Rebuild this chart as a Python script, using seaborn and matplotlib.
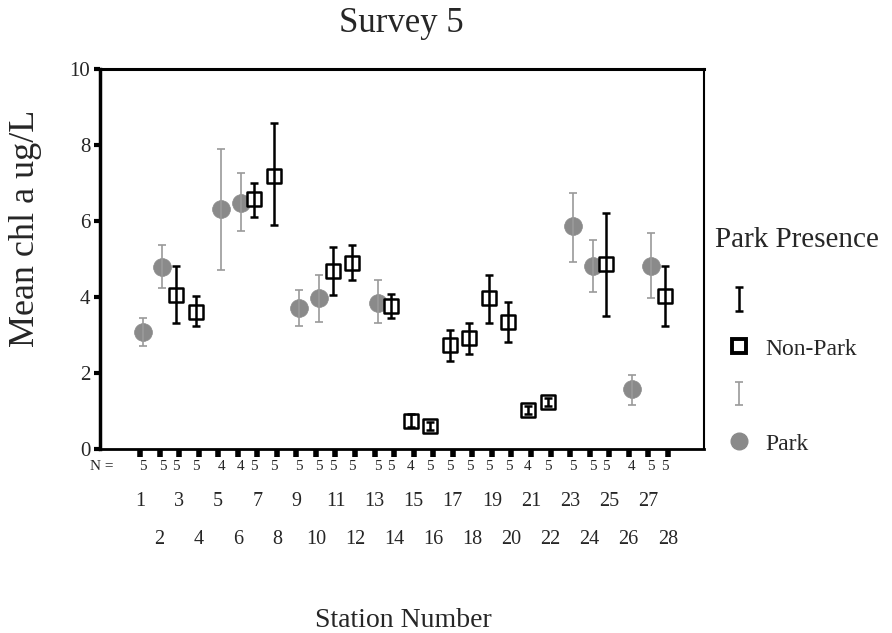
import numpy as np
import pandas as pd
import seaborn as sns
import matplotlib.pyplot as plt
from matplotlib.lines import Line2D
from matplotlib.transforms import blended_transform_factory

# dados (media e intervalo por estacao)
estacoes = list(range(1, 29))
grupo = ["Park", "Park", "Non-Park", "Non-Park", "Park", "Park", "Non-Park",
         "Non-Park", "Park", "Park", "Non-Park", "Non-Park", "Park", "Non-Park",
         "Non-Park", "Non-Park", "Non-Park", "Non-Park", "Non-Park", "Non-Park",
         "Non-Park", "Non-Park", "Park", "Park", "Non-Park", "Park", "Park",
         "Non-Park"]
media = [3.07, 4.79, 4.06, 3.60, 6.32, 6.47, 6.59, 7.20, 3.71, 3.97, 4.69,
         4.91, 3.84, 3.77, 0.75, 0.61, 2.73, 2.92, 3.97, 3.34, 1.03, 1.24,
         5.86, 4.81, 4.87, 1.58, 4.82, 4.02]
superior = [3.45, 5.38, 4.81, 4.03, 7.89, 7.26, 7.00, 8.58, 4.19, 4.59, 5.33,
            5.38, 4.46, 4.08, 0.93, 0.72, 3.14, 3.33, 4.59, 3.87, 1.13, 1.34,
            6.74, 5.49, 6.21, 1.94, 5.70, 4.81]
inferior = [2.72, 4.24, 3.33, 3.24, 4.70, 5.74, 6.10, 5.90, 3.23, 3.34, 4.06,
            4.44, 3.33, 3.45, 0.57, 0.50, 2.31, 2.51, 3.33, 2.81, 0.93, 1.14,
            4.92, 4.13, 3.49, 1.15, 3.97, 3.24]
n_obs = [5, 5, 5, 5, 4, 4, 5, 5, 5, 5, 5, 5, 5, 5, 4, 5, 5, 5, 5, 5, 4, 5, 5,
         5, 5, 4, 5, 5]

db = pd.DataFrame({"Estacao": estacoes, "Grupo": grupo, "Media": media,
                   "Sup": superior, "Inf": inferior, "N": n_obs})
# deslocamento do cluster (park a direita, non-park a esquerda)
db["X"] = db["Estacao"] + np.where(db["Grupo"] == "Park", 0.15, -0.15)

sns.set_style("ticks")
plt.rcParams["font.family"] = ["Liberation Serif", "DejaVu Serif"]

W, H = 892, 633
fig = plt.figure(figsize=(W / 100, H / 100), dpi=100)
ax = fig.add_axes([0.112, 0.2907, 0.677, 0.6])

estilo = {
    "Park": dict(marker="o", s=165, color="#8a8a8a", edgecolor="#8a8a8a",
                 linewidth=0.5, ecor="#9a9a9a", elw=1.2),
    "Non-Park": dict(marker="s", s=105, color="white", edgecolor="black",
                     linewidth=1.8, ecor="black", elw=1.8),
}

barras = {}
for g in ["Park", "Non-Park"]:
    sub = db[db["Grupo"] == g]
    e = estilo[g]
    sns.scatterplot(data=sub, x="X", y="Media", marker=e["marker"], s=e["s"],
                    color=e["color"], edgecolor=e["edgecolor"],
                    linewidth=e["linewidth"], ax=ax, zorder=3, legend=False)
    barras[g] = ax.errorbar(sub["X"], sub["Media"],
                            yerr=[sub["Media"] - sub["Inf"], sub["Sup"] - sub["Media"]],
                            fmt="none", ecolor=e["ecor"], elinewidth=e["elw"],
                            capsize=3, capthick=e["elw"], zorder=4)

ax.set_xlim(-1.05, 29.84)
ax.set_ylim(0, 10)
ax.set_yticks([0, 2, 4, 6, 8, 10])
ax.set_yticklabels(["0", "2", "4", "6", "8", "10"], fontsize=15)
ax.set_xticks(estacoes)
ax.set_xticklabels([])
ax.tick_params(axis="x", length=6, width=4, direction="out", color="black")
ax.tick_params(axis="y", length=4, width=3, direction="out", color="black", pad=3)
ax.set_xlabel("")
ax.set_ylabel("")

for lado, lw in [("left", 2.5), ("top", 2.2), ("right", 1.5), ("bottom", 2.0)]:
    ax.spines[lado].set_visible(True)
    ax.spines[lado].set_linewidth(lw)
    ax.spines[lado].set_color("black")

# rotulos de N e das estacoes
trans = blended_transform_factory(ax.transData, ax.transAxes)
for _, r in db.iterrows():
    ax.text(r["X"], -0.047, str(r["N"]), transform=trans, ha="center",
            va="center", fontsize=11, clip_on=False)
for s in estacoes:
    yy = -0.139 if s % 2 == 1 else -0.239
    ax.text(s, yy, str(s), transform=trans, ha="center", va="center",
            fontsize=14.5, clip_on=False)
ax.text(0.022, -0.047, "N =", transform=ax.transAxes, ha="right", va="center",
        fontsize=11, clip_on=False)

fig.text(401 / W, 1 - 32 / H, "Survey 5", ha="center", va="baseline", fontsize=25)
fig.text(403 / W, 1 - 627 / H, "Station Number", ha="center", va="baseline",
         fontsize=20)
fig.text(26 / W, 1 - 228 / H, "Mean chl a ug/L", rotation=90, ha="center",
         va="center", fontsize=26)

quad = Line2D([], [], marker="s", linestyle="none", markersize=10,
              markerfacecolor="white", markeredgecolor="black",
              markeredgewidth=2.8)
circ = Line2D([], [], marker="o", linestyle="none", markersize=12,
              markerfacecolor="#8a8a8a", markeredgecolor="#8a8a8a")
leg = fig.legend([barras["Non-Park"], quad, barras["Park"], circ],
                 ["", "Non-Park", "", "Park"], title="Park Presence",
                 loc="upper left", bbox_to_anchor=(706 / W, 1 - 218 / H),
                 frameon=False, fontsize=17, title_fontsize=21,
                 labelspacing=1.0, handlelength=2.0, handleheight=1.0,
                 handletextpad=0.1, borderaxespad=0.0)
leg._legend_box.align = "left"
leg._legend_box.sep = 26

fig.savefig("out.png", dpi=100)
